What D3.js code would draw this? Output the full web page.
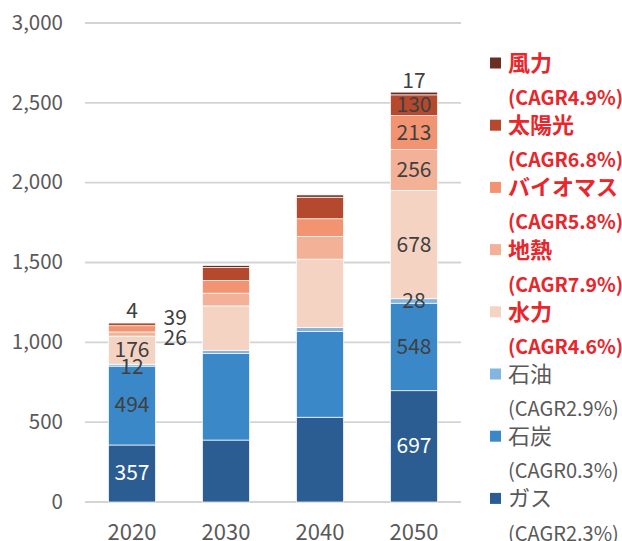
<!DOCTYPE html>
<html>
<head>
<meta charset="utf-8">
<script src="https://cdn.jsdelivr.net/npm/d3@7"></script>
<style>
  body { margin: 0; background: #fff; }
  svg text { font-family: 'Noto Sans CJK JP', 'Noto Sans', sans-serif; }
</style>
</head>
<body>
<div id="chart"></div>
<script>
const years = ['2020', '2030', '2040', '2050']
const seriesNames = ['ガス', '石炭', '石油', '水力', '地熱', 'バイオマス', '太陽光', '風力']
const seriesKeys = ['gas', 'coal', 'oil', 'hydro', 'geo', 'bio', 'solar', 'wind']
const cagr = ['2.3', '0.3', '2.9', '4.6', '7.9', '5.8', '6.8', '4.9']
const renewable = [false, false, false, true, true, true, true, true]

const gas = [357, 388, 531, 697]
const coal = [494, 542, 537, 548]
const oil = [12, 20, 24, 28]
const hydro = [176, 278, 429, 678]
const geo = [26, 80, 141, 256]
const bio = [39, 79, 112, 213]
const solar = [18, 82, 135, 130]
const wind = [4, 12, 14, 17]

const yTicks = [0, 500, 1000, 1500, 2000, 2500, 3000]

const colors = ['#2c5d92', '#3a88c8', '#82b6e0', '#f5d3c3', '#f3b198', '#f29471', '#b4492d', '#6b2e22']

const width = 622
const height = 541

const valuesByKey = { gas, coal, oil, hydro, geo, bio, solar, wind }
const table = years.map((yr, i) => {
  const row = { year: yr }
  seriesKeys.forEach(k => { row[k] = valuesByKey[k][i] })
  return row
})

const svg = d3.select('#chart')
  .append('svg')
  .attr('width', width)
  .attr('height', height)

const x = d3.scaleBand()
  .domain(years)
  .range([85, 461])
  .paddingInner(0.5)
  .paddingOuter(0.25)

const y = d3.scaleLinear()
  .domain([0, 3000])
  .range([502, 23])

// gridlines
svg.append('g')
  .selectAll('line')
  .data(yTicks)
  .enter()
  .append('line')
  .attr('x1', 85)
  .attr('x2', 461)
  .attr('y1', d => y(d))
  .attr('y2', d => y(d))
  .style('stroke', '#d4d4d4')
  .style('stroke-width', 1.8)

// y tick labels
svg.append('g')
  .selectAll('text')
  .data(yTicks)
  .enter()
  .append('text')
  .attr('x', 63)
  .attr('y', d => y(d))
  .attr('dy', '0.33em')
  .attr('text-anchor', 'end')
  .style('font-size', '20.5px')
  .style('fill', '#595959')
  .text(d => d3.format(',')(d))

// x labels
svg.append('g')
  .selectAll('text')
  .data(years)
  .enter()
  .append('text')
  .attr('x', d => x(d) + x.bandwidth() / 2)
  .attr('y', 540)
  .attr('text-anchor', 'middle')
  .style('font-size', '22px')
  .style('fill', '#595959')
  .text(d => d)

const stacked = d3.stack().keys(seriesKeys)(table)

const layers = svg.append('g')
  .selectAll('g')
  .data(stacked)
  .enter()
  .append('g')
  .style('fill', (d, i) => colors[i])

layers.selectAll('rect')
  .data(d => d)
  .enter()
  .append('rect')
  .attr('x', d => x(d.data.year))
  .attr('width', x.bandwidth())
  .attr('y', d => y(d[1]))
  .attr('height', d => y(d[0]) - y(d[1]))
  .style('stroke', '#ffffff')
  .style('stroke-width', 0.7)

// data labels, only 2020 and 2050 carry them
const labelled = ['2020', '2050']
const labels = svg.append('g')
stacked.forEach((layer, si) => {
  layer.forEach(d => {
    const yr = d.data.year
    if (labelled.indexOf(yr) < 0) return
    const key = seriesKeys[si]
    const v = d.data[key]
    const cx = x(yr) + x.bandwidth() / 2
    let lx = cx
    let ly = (y(d[0]) + y(d[1])) / 2
    let anchor = 'middle'
    if (key === 'wind') {
      ly = y(d[1]) - 11
    }
    if (yr === '2020') {
      if (key === 'solar') return
      if (key === 'bio') {
        lx = x(yr) + x.bandwidth() + 8
        ly = y(d[1]) - 8
        anchor = 'start'
      }
      if (key === 'geo') {
        lx = x(yr) + x.bandwidth() + 8
        ly = y(d[0]) + 2
        anchor = 'start'
      }
      if (key === 'oil') ly += 2
    }
    labels.append('text')
      .attr('x', lx)
      .attr('y', ly)
      .attr('dy', '0.33em')
      .attr('text-anchor', anchor)
      .style('font-size', '21px')
      .style('fill', key === 'gas' ? '#ffffff' : '#404040')
      .text(v)
  })
})

// legend, top entry is the top of the stack
const legendOrder = d3.range(seriesKeys.length).reverse()
const legend = svg.append('g')
  .selectAll('g')
  .data(legendOrder)
  .enter()
  .append('g')
  .attr('transform', (d, i) => 'translate(490,' + (63 + i * 62.2) + ')')

legend.append('rect')
  .attr('x', 0)
  .attr('y', -5.5)
  .attr('width', 11)
  .attr('height', 11)
  .style('fill', d => colors[d])

legend.append('text')
  .attr('x', 18)
  .attr('y', 0)
  .attr('dy', '0.36em')
  .style('font-size', '22px')
  .style('font-weight', d => renewable[d] ? 'bold' : 'normal')
  .style('fill', d => renewable[d] ? '#e8262b' : '#595959')
  .text(d => seriesNames[d])

legend.append('text')
  .attr('x', 18)
  .attr('y', 35)
  .attr('dy', '0.36em')
  .style('font-size', d => renewable[d] ? '19.5px' : '20px')
  .style('font-weight', d => renewable[d] ? 'bold' : 'normal')
  .style('fill', d => renewable[d] ? '#e8262b' : '#595959')
  .text(d => '(CAGR' + cagr[d] + '%)')
</script>
</body>
</html>
